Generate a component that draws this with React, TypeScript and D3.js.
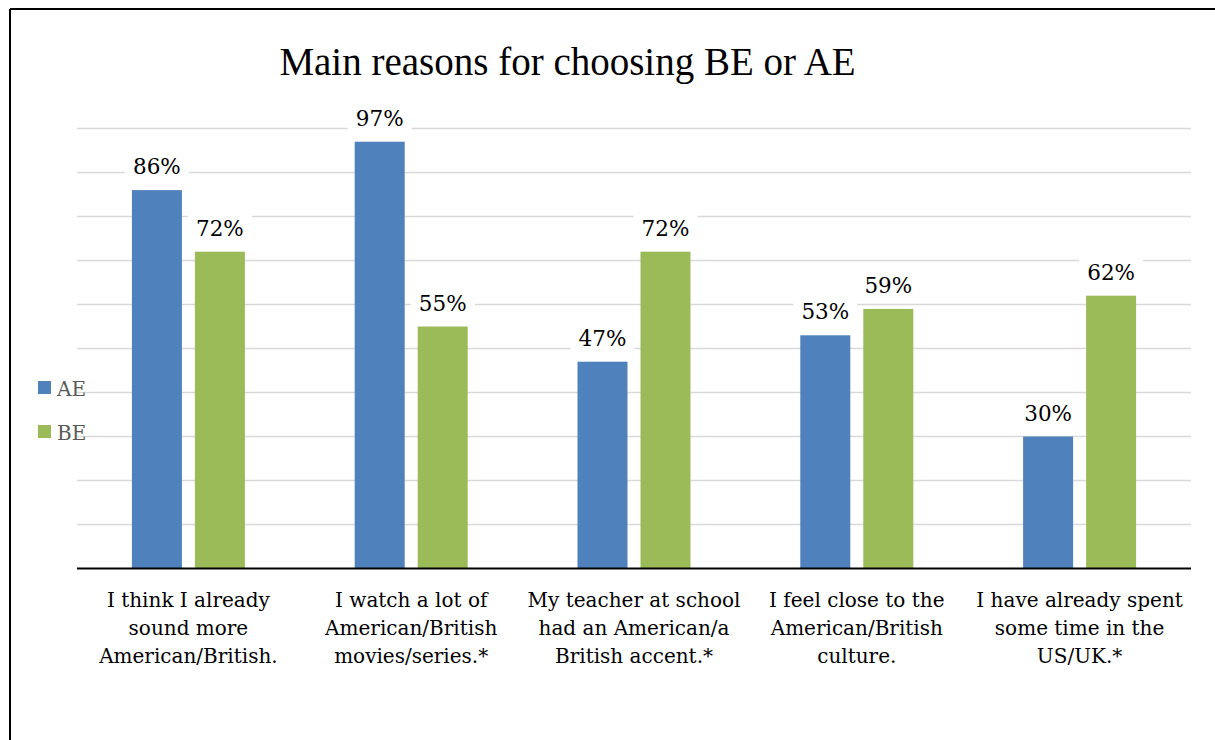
import React from 'react';
import * as d3 from 'd3';

const title = 'Main reasons for choosing BE or AE';
const categories = [
  'I think I already\nsound more\nAmerican/British.',
  'I watch a lot of\nAmerican/British\nmovies/series.*',
  'My teacher at school\nhad an American/a\nBritish accent.*',
  'I feel close to the\nAmerican/British\nculture.',
  'I have already spent\nsome time in the\nUS/UK.*',
];
const seriesNames = ['AE', 'BE'];
const aeValues = [86, 97, 47, 53, 30];
const beValues = [72, 55, 72, 59, 62];
const gridTicks = [10, 20, 30, 40, 50, 60, 70, 80, 90, 100];

const colors: Record<string, string> = { AE: '#4F81BD', BE: '#9BBB59' };
const FONT = '"DejaVu Serif", serif';
const TITLE_FONT = '"Liberation Serif", serif';

export default function App() {
  const W = 1215;
  const H = 740;
  const plotLeft = 77;
  const plotRight = 1191;
  const yBase = 568.5;
  const yTop = 128.5;

  const y = d3.scaleLinear().domain([0, 100]).range([yBase, yTop]);
  const x0 = d3.scaleBand<string>().domain(categories).range([plotLeft, plotRight]).padding(0);
  const bw0 = x0.bandwidth();
  const groupW = 113;
  const off = (bw0 - groupW) / 2;
  const x1 = d3
    .scaleBand<string>()
    .domain(seriesNames)
    .range([off, off + groupW])
    .paddingInner(0.2063)
    .paddingOuter(0);

  const valuesBySeries: Record<string, number[]> = { AE: aeValues, BE: beValues };

  return (
    <svg
      width={W}
      height={H}
      style={{ position: 'absolute', left: 0, top: 0, background: '#fff' }}
      fontFamily={FONT}
    >
      <rect x={0} y={0} width={W} height={H} fill="#fff" />
      {/* chart border */}
      <line x1={10} y1={9} x2={W} y2={9} stroke="#000" strokeWidth={2} />
      <line x1={10} y1={9} x2={10} y2={H} stroke="#000" strokeWidth={2} />

      {/* title */}
      <text x={567.5} y={75} textAnchor="middle" fontSize={39} fill="#000" fontFamily={TITLE_FONT}>
        {title}
      </text>

      {/* gridlines */}
      {gridTicks.map((t) => (
        <line
          key={t}
          x1={plotLeft}
          x2={plotRight}
          y1={y(t)}
          y2={y(t)}
          stroke="#D9D9D9"
          strokeWidth={1.5}
        />
      ))}

      {/* bars */}
      {categories.map((c, i) => (
        <g key={c} transform={`translate(${x0(c)},0)`}>
          {seriesNames.map((s) => {
            const v = valuesBySeries[s][i];
            return (
              <rect
                key={s}
                x={x1(s)}
                y={y(v)}
                width={x1.bandwidth()}
                height={yBase - y(v)}
                fill={colors[s]}
              />
            );
          })}
        </g>
      ))}

      {/* data labels */}
      {categories.map((c, i) => (
        <g key={'l' + c} transform={`translate(${x0(c)},0)`}>
          {seriesNames.map((s) => {
            const v = valuesBySeries[s][i];
            const cx = (x1(s) as number) + x1.bandwidth() / 2;
            const base = y(v) - 16;
            return (
              <g key={s}>
                <rect x={cx - 32} y={base - 22} width={64} height={30} fill="#fff" />
                <text x={cx} y={base} textAnchor="middle" fontSize={21.5} fill="#000">
                  {v}%
                </text>
              </g>
            );
          })}
        </g>
      ))}

      {/* baseline */}
      <line x1={plotLeft} x2={plotRight} y1={yBase} y2={yBase} stroke="#000" strokeWidth={2} />

      {/* category labels */}
      {categories.map((c) => {
        const cx = (x0(c) as number) + bw0 / 2;
        return (
          <text key={'c' + c} x={cx} textAnchor="middle" fontSize={20} fill="#000">
            {c.split('\n').map((line, k) => (
              <tspan key={k} x={cx} y={606.7 + k * 28.3}>
                {line}
              </tspan>
            ))}
          </text>
        );
      })}

      {/* legend */}
      {seriesNames.map((s, k) => (
        <g key={'lg' + s} transform={`translate(38,${381 + k * 44})`}>
          <rect x={0} y={0} width={13} height={13} fill={colors[s]} />
          <text x={19} y={15} fontSize={20} fill="#595959">
            {s}
          </text>
        </g>
      ))}
    </svg>
  );
}
